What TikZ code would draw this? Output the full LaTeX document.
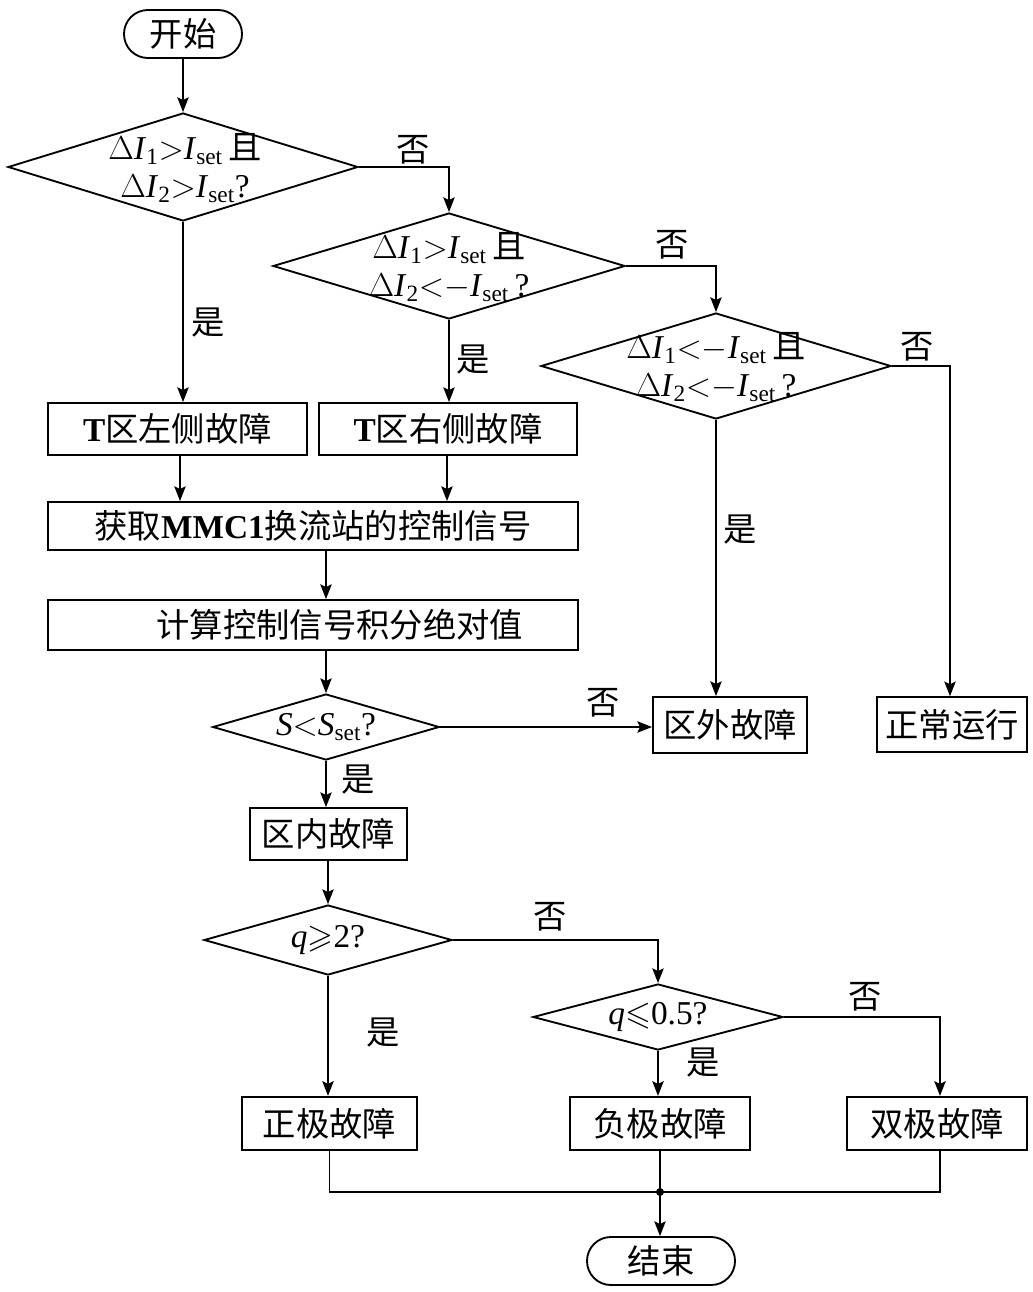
\documentclass[tikz,border=0pt]{standalone}
\usepackage{amssymb}
\usepackage{fontspec}
\setmainfont{Liberation Serif}
\newfontfamily\cjk{Noto Sans CJK SC}
\usetikzlibrary{arrows.meta,shapes.geometric}
\newcommand\zh[1]{{\cjk #1}}
\newcommand\Iv[1]{\textit{I}\textsubscript{#1}}
\newcommand\Sv[1]{\textit{S}\textsubscript{#1}}
\newcommand\gtr{\ensuremath{>}}
\newcommand\lss{\ensuremath{<}}
\newcommand\mns{\ensuremath{-}}
\begin{document}
\begin{tikzpicture}[x=0.75pt,y=-0.75pt,
  line width=1.4pt,
  >={Stealth[length=11pt,width=8.5pt,inset=2pt]},
  every node/.style={font=\fontsize{25}{27}\selectfont, inner sep=0pt},
  box/.style={draw, rectangle, line width=1.4pt},
  term/.style={draw, rectangle, rounded corners=17.9pt, line width=1.4pt},
  dia/.style={draw, diamond, line width=1.4pt},
  lab/.style={font=\fontsize{25}{27}\selectfont\cjk}
]
\useasboundingbox (0,0) rectangle (1032,1292);

% terminals
\node[term, minimum width=88.5pt, minimum height=36pt] (start) at (183,34) {\zh{开始}};
\node[term, minimum width=111pt, minimum height=36pt] (stop) at (661,1261) {\zh{结束}};

% decision 1
\node[dia, minimum width=262.5pt, minimum height=81pt] (d1) at (183,167) {};
\node[align=center] (d1t) at (185,168) {$\Delta$\Iv{1}\gtr\Iv{set}\,\zh{且}\\[1pt]$\Delta$\Iv{2}\gtr\Iv{set}?};

% decision 2
\node[dia, minimum width=264pt, minimum height=79.5pt] (d2) at (449,266) {};
\node[align=center] (d2t) at (449,267) {$\Delta$\Iv{1}\gtr\Iv{set}\,\zh{且}\\[1pt]$\Delta$\Iv{2}\lss\mns\Iv{set}\,?};

% decision 3
\node[dia, minimum width=262.5pt, minimum height=79.5pt] (d3) at (716,366) {};
\node[align=center] (d3t) at (716,367) {$\Delta$\Iv{1}\lss\mns\Iv{set}\,\zh{且}\\[1pt]$\Delta$\Iv{2}\lss\mns\Iv{set}\,?};

% boxes
\node[box, minimum width=194pt, minimum height=39pt] (tl) at (177.5,429) {\textbf{T}\zh{区左侧故障}};
\node[box, minimum width=193.5pt, minimum height=39pt] (tr) at (448,429) {\textbf{T}\zh{区右侧故障}};
\node[box, minimum width=397.5pt, minimum height=36pt] (get) at (313,526) {\zh{获取}\textbf{MMC1}\zh{换流站的控制信号}};
\node[box, minimum width=397.5pt, minimum height=37.5pt] (calc) at (313,625) {\hspace*{40pt}\zh{计算控制信号积分绝对值}};

\node[dia, minimum width=170pt, minimum height=49.5pt] (ds) at (326,727) {};
\node (dst) at (326,727) {\textit{S}\lss\Sv{set}?};

\node[box, minimum width=115.5pt, minimum height=42pt] (out) at (730,725) {\zh{区外故障}};
\node[box, minimum width=112.5pt, minimum height=41pt] (norm) at (952,724.5) {\zh{正常运行}};
\node[box, minimum width=118pt, minimum height=39pt] (in) at (328.5,834) {\zh{区内故障}};

\node[dia, minimum width=186pt, minimum height=52.5pt] (q1) at (328,940) {};
\node (q1t) at (328,940) {\textit{q}\ensuremath{\geqslant}2?};
\node[dia, minimum width=187.5pt, minimum height=49.5pt] (q2) at (658,1017) {};
\node (q2t) at (658,1017) {\textit{q}\ensuremath{\leqslant}0.5?};

\node[box, minimum width=131pt, minimum height=40pt] (pos) at (329.5,1123.5) {\zh{正极故障}};
\node[box, minimum width=135pt, minimum height=40pt] (neg) at (660,1123.5) {\zh{负极故障}};
\node[box, minimum width=135pt, minimum height=40pt] (bi) at (937,1123.5) {\zh{双极故障}};

\coordinate (j) at (660,1192);

% connectors
\draw[->] (start.south) -- (d1.north);
\draw[->] (d1.east) -| (d2.north);
\draw[->] (d2.east) -| (d3.north);
\draw[->] (d3.east) -| (norm.north -| 950,0);
\draw[->] (d1.south) -- (d1.south |- tl.north);
\draw[->] (d2.south) -- (d2.south |- tr.north);
\draw[->] (d3.south) -- (d3.south |- out.north);
\draw[->] (tl.south -| 180,0) -- (get.north -| 180,0);
\draw[->] (tr.south -| 447,0) -- (get.north -| 447,0);
\draw[->] (get.south -| ds.north) -- (calc.north -| ds.north);
\draw[->] (calc.south -| ds.north) -- (ds.north);
\draw[->] (ds.east) -- (ds.east -| out.west);
\draw[->] (ds.south) -- (ds.south |- in.north);
\draw[->] (in.south -| q1.north) -- (q1.north);
\draw[->] (q1.east) -| (q2.north);
\draw[->] (q2.east) -| (bi.north -| 940,0);
\draw[->] (q1.south) -- (q1.south |- pos.north);
\draw[->] (q2.south) -- (q2.south |- neg.north);
\draw (pos.south) |- (j) -- (j -| bi.south -| 940,0) -- (bi.south -| 940,0);
\draw (neg.south -| j) -- (j);
\fill (j) circle (3pt);
\draw[->] (j) -- (stop.north -| j);

% labels
\node[lab] (n1) at (413,150) {否};
\node[lab] (n2) at (672,245) {否};
\node[lab] (n3) at (917,347) {否};
\node[lab] (n4) at (603,703) {否};
\node[lab] (n5) at (550,917) {否};
\node[lab] (n6) at (865,997) {否};
\node[lab] (y1) at (208,323) {是};
\node[lab] (y2) at (473,360) {是};
\node[lab] (y3) at (740,530) {是};
\node[lab] (y4) at (358,780) {是};
\node[lab] (y5) at (383,1033) {是};
\node[lab] (y6) at (703,1063) {是};
\end{tikzpicture}
\end{document}
